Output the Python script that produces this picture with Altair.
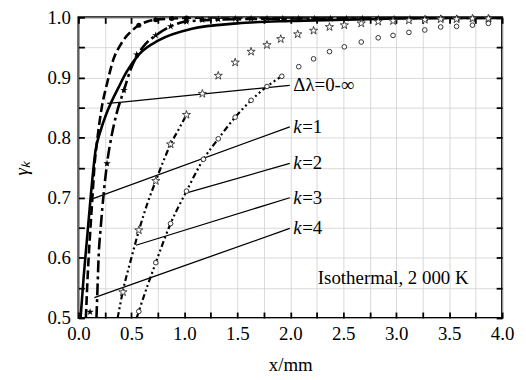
import altair as alt
import pandas as pd

# ---- model curves ----
tot_x = [0.02, 0.05, 0.08, 0.12, 0.16, 0.21, 0.26, 0.31, 0.38, 0.45, 0.57, 0.76, 1.07, 1.5, 2.0, 2.5, 3.0, 3.5, 4.0]
tot_y = [0.50, 0.57, 0.63, 0.71, 0.777, 0.812, 0.838, 0.859, 0.884, 0.908, 0.938, 0.962, 0.981, 0.990, 0.994, 0.996, 0.998, 0.999, 0.999]

k1_x = [0.07, 0.09, 0.11, 0.131, 0.15, 0.18, 0.22, 0.27, 0.33, 0.40, 0.45, 0.50, 0.57, 0.65, 0.73, 0.88, 1.0, 1.5, 4.0]
k1_y = [0.50, 0.58, 0.64, 0.698, 0.75, 0.80, 0.85, 0.89, 0.93, 0.955, 0.968, 0.977, 0.987, 0.993, 0.996, 0.998, 0.999, 1.0, 1.0]

k4_x = [0.17, 0.18, 0.19, 0.21, 0.24, 0.27, 0.31, 0.36, 0.43, 0.49, 0.55, 0.63, 0.73, 0.87, 1.02, 1.5, 2.0, 3.0, 4.0]
k4_y = [0.50, 0.55, 0.60, 0.65, 0.71, 0.757, 0.80, 0.84, 0.879, 0.912, 0.935, 0.955, 0.97, 0.985, 0.993, 0.997, 0.998, 0.999, 0.999]

k3_x = [0.37, 0.42, 0.50, 0.57, 0.65, 0.73, 0.80, 0.87, 0.95, 1.02]
k3_y = [0.50, 0.545, 0.60, 0.645, 0.69, 0.728, 0.76, 0.789, 0.815, 0.838]

k2_x = [0.55, 0.57, 0.73, 0.87, 1.02, 1.18, 1.32, 1.48, 1.63, 1.78, 1.90]
k2_y = [0.50, 0.511, 0.592, 0.657, 0.711, 0.764, 0.798, 0.834, 0.862, 0.885, 0.900]

# ---- symbols ----
dot_x = [0.57, 0.73, 0.88, 1.02]
dot_y = [0.987, 0.996, 0.998, 0.999]

fstar_x = [0.11, 0.27, 0.43, 0.55, 0.73, 0.87, 1.02, 1.17, 1.32, 1.48, 1.63, 1.78, 1.93, 2.08, 2.23,
           2.38, 2.53, 2.68, 2.83, 2.98, 3.13, 3.28, 3.43, 3.58, 3.73, 3.88]
fstar_y = [0.51, 0.757, 0.879, 0.938, 0.97, 0.985, 0.993, 0.996, 0.997, 0.998, 0.998, 0.998, 0.998, 0.998, 0.998,
           0.998, 0.998, 0.998, 0.998, 0.998, 0.998, 0.998, 0.998, 0.998, 0.998, 0.998]

ostar_x = [0.42, 0.57, 0.73, 0.87, 1.02, 1.17, 1.32, 1.48, 1.63, 1.78, 1.91, 2.07, 2.22, 2.37, 2.51,
           2.67, 2.83, 2.97, 3.12, 3.27, 3.42, 3.57, 3.72, 3.87]
ostar_y = [0.543, 0.646, 0.728, 0.789, 0.838, 0.873, 0.903, 0.925, 0.943, 0.954, 0.964, 0.972, 0.978, 0.984, 0.987,
           0.990, 0.993, 0.994, 0.995, 0.996, 0.997, 0.997, 0.998, 0.998]

ocirc_x = [0.57, 0.73, 0.87, 1.02, 1.18, 1.32, 1.48, 1.63, 1.78, 1.92, 2.08, 2.22, 2.37, 2.51, 2.67,
           2.83, 2.97, 3.12, 3.27, 3.42, 3.57, 3.72, 3.87]
ocirc_y = [0.511, 0.592, 0.657, 0.711, 0.764, 0.798, 0.834, 0.862, 0.885, 0.902, 0.918, 0.931, 0.943, 0.951, 0.959,
           0.966, 0.970, 0.975, 0.979, 0.984, 0.985, 0.987, 0.990]

# ---- annotation pointers (one polyline each) ----
ptr_d_x, ptr_d_y = [0.272, 0.412, 1.995], [0.857, 0.859, 0.887]
ptr_1_x, ptr_1_y = [0.131, 1.995], [0.698, 0.818]
ptr_2_x, ptr_2_y = [1.021, 1.995], [0.708, 0.757]
ptr_3_x, ptr_3_y = [0.543, 1.995], [0.621, 0.700]
ptr_4_x, ptr_4_y = [0.150, 1.995], [0.534, 0.649]

lab_x = [2.0, 2.0, 2.0, 2.0]
lab_y = [0.818, 0.757, 0.700, 0.649]
lab_num = ["=1", "=2", "=3", "=4"]
delta_label = "Δλ=0-∞"
delta_y = 0.887
iso_label = "Isothermal, 2 000 K"
iso_x = 2.26
iso_y = 0.567

x_grid = [0, 0.25, 0.5, 0.75, 1.0, 1.25, 1.5, 1.75, 2.0, 2.25, 2.5, 2.75, 3.0, 3.25, 3.5, 3.75, 4.0]
y_grid = [0.5, 0.55, 0.6, 0.65, 0.7, 0.75, 0.8, 0.85, 0.9, 0.95, 1.0]

FONT = "Liberation Serif"
FS = 19
STAR = ("M0,-1L0.2234,-0.3074L0.9511,-0.309L0.3614,0.1174L0.5878,0.809L0,0.38"
        "L-0.5878,0.809L-0.3614,0.1174L-0.9511,-0.309L-0.2234,-0.3074Z")
W, H = 427, 303
TK = 6  # inward tick length

xs = alt.Scale(domain=[0, 4], nice=False, zero=False)
ys = alt.Scale(domain=[0.5, 1.0], nice=False, zero=False)

tick_style = dict(ticks=True, tickSize=TK, tickWidth=1.8, tickColor="black", offset=-TK, domain=False)

x_axis = alt.Axis(orient="bottom", values=x_grid, grid=True, gridColor="#cfcfcf", gridWidth=0.8,
                  labelExpr="(datum.value * 2) % 1 == 0 ? format(datum.value, '.1f') : ''",
                  labelFont=FONT, labelFontSize=FS, labelColor="black", labelPadding=7, labelFlush=False,
                  labelOverlap=False, title="x/mm", titleFont=FONT, titleFontSize=FS, titleFontWeight="normal",
                  titleColor="black", titlePadding=12, **tick_style)
y_axis = alt.Axis(orient="left", values=y_grid, grid=True, gridColor="#cfcfcf", gridWidth=0.8,
                  labelExpr="abs(datum.value * 10 - round(datum.value * 10)) < 0.001 ? format(datum.value, '.1f') : ''",
                  labelFont=FONT, labelFontSize=FS, labelColor="black", labelPadding=8, labelFlush=False,
                  labelOverlap=False, title="γₖ", titleFont=FONT, titleFontSize=FS, titleFontWeight="normal",
                  titleFontStyle="italic", titleColor="black", titlePadding=16, **tick_style)
top_axis = alt.Axis(orient="top", values=x_grid, grid=False, labels=False, title="", **tick_style)
right_axis = alt.Axis(orient="right", values=y_grid, grid=False, labels=False, title="", **tick_style)

X = alt.X("x:Q", scale=xs, axis=x_axis)
Y = alt.Y("y:Q", scale=ys, axis=y_axis)


def df(x, y):
    return pd.DataFrame({"x": [float(v) for v in x], "y": [float(v) for v in y]})


def curve(x, y, dash, width, interp="monotone"):
    kw = dict(color="black", strokeWidth=width, clip=True, interpolate=interp)
    if dash:
        kw["strokeDash"] = dash
    return alt.Chart(df(x, y)).mark_line(**kw).encode(x=X, y=Y)


layers = [
    curve(tot_x, tot_y, None, 2.6),
    curve(k1_x, k1_y, [9, 4], 2.6),
    curve(k4_x, k4_y, [12, 4, 3, 4], 2.6),
    curve(k3_x, k3_y, [6, 3, 2, 3, 2, 3], 2.2),
    curve(k2_x, k2_y, [6, 3, 2, 3, 2, 3], 2.2),
]

for px, py in [(ptr_d_x, ptr_d_y), (ptr_1_x, ptr_1_y), (ptr_2_x, ptr_2_y), (ptr_3_x, ptr_3_y), (ptr_4_x, ptr_4_y)]:
    layers.append(alt.Chart(df(px, py)).mark_line(color="black", strokeWidth=1.3).encode(x=X, y=Y))

# texts
lab_df = pd.DataFrame({"x": lab_x, "y": lab_y, "t": lab_num})
layers.append(alt.Chart(lab_df).mark_text(text="k", font=FONT, fontSize=FS, fontStyle="italic", align="left",
                                          baseline="middle", dx=3, color="black").encode(x=X, y=Y))
layers.append(alt.Chart(lab_df).mark_text(font=FONT, fontSize=FS, align="left", baseline="middle", dx=12,
                                          color="black").encode(x=X, y=Y, text="t:N"))
layers.append(alt.Chart(df([2.0], [delta_y])).mark_text(text=delta_label, font=FONT, fontSize=FS, align="left",
                                                        baseline="middle", dx=3, color="black").encode(x=X, y=Y))
layers.append(alt.Chart(df([iso_x], [iso_y])).mark_text(text=iso_label, font=FONT, fontSize=FS, align="left",
                                                        baseline="middle", color="black").encode(x=X, y=Y))

# symbols
layers.append(alt.Chart(df(dot_x, dot_y)).mark_circle(color="black", size=26, opacity=1).encode(x=X, y=Y))
layers.append(alt.Chart(df(ocirc_x, ocirc_y)).mark_circle(fill="white", stroke="#333", strokeWidth=1.0, size=22,
                                                          opacity=1).encode(x=X, y=Y))
layers.append(alt.Chart(df(fstar_x, fstar_y)).mark_point(shape=STAR, filled=True, color="black", size=60,
                                                         opacity=1).encode(x=X, y=Y))
layers.append(alt.Chart(df(ostar_x, ostar_y)).mark_point(shape=STAR, filled=True, fill="white", stroke="#333",
                                                         strokeWidth=0.9, size=75, opacity=1).encode(x=X, y=Y))

main = alt.layer(*layers)

# invisible layer that only carries the top and right axes (inward ticks)
frame_axes = alt.Chart(df([0.0], [0.5])).mark_circle(opacity=0).encode(
    x=alt.X("x:Q", scale=xs, axis=top_axis),
    y=alt.Y("y:Q", scale=ys, axis=right_axis),
)

chart = alt.layer(main, frame_axes).resolve_axis(x="independent", y="independent").properties(
    width=W, height=H,
    padding={"left": 71, "top": 8, "right": 16, "bottom": 56},
    autosize=alt.AutoSizeParams(type="none"),
    background="white",
).configure_view(stroke="black", strokeWidth=2)

chart.save("out.html", embed_options={"renderer": "svg", "actions": False})
